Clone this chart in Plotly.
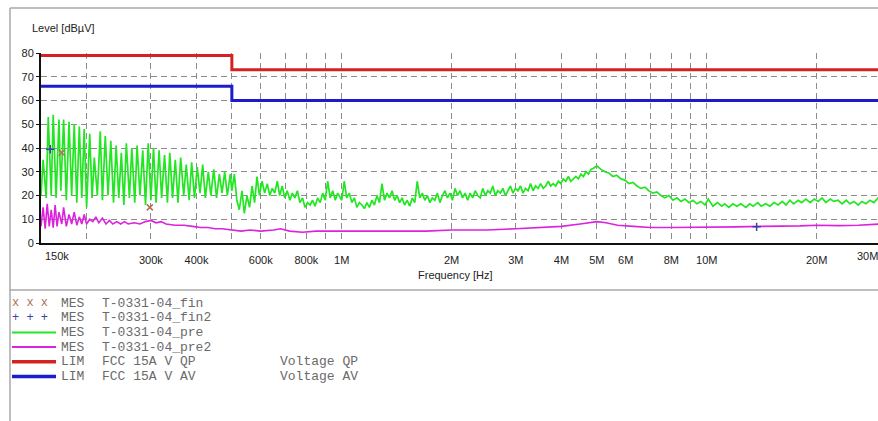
import plotly.graph_objects as go
import math

# ---------------- data (frequencies in MHz, levels in dBuV) ----------------
# green "pre" scan, split into frequency bands
pre_low_f = [0.150, 0.152, 0.155, 0.157, 0.160, 0.162, 0.165, 0.168, 0.170, 0.173,
             0.176, 0.179, 0.182, 0.185, 0.188, 0.191, 0.194, 0.197, 0.200, 0.204,
             0.207, 0.210, 0.214, 0.218, 0.221, 0.225, 0.229, 0.233, 0.237, 0.241,
             0.245, 0.249, 0.253, 0.257, 0.262, 0.266, 0.271, 0.275, 0.280, 0.285,
             0.290, 0.295, 0.300, 0.305, 0.310, 0.316, 0.321, 0.327, 0.333, 0.338,
             0.344, 0.350, 0.356, 0.362, 0.369, 0.375, 0.382, 0.388, 0.395, 0.402,
             0.409, 0.416, 0.423, 0.431, 0.438, 0.446, 0.454, 0.462, 0.470, 0.478,
             0.486, 0.495, 0.500]
pre_low_db = [20, 35, 19, 53, 20, 54, 19, 52, 22, 52,
              18, 51, 20, 50, 17, 49, 19, 48, 15, 46,
              19, 36, 20, 47, 18, 45, 20, 43, 17, 41,
              19, 38, 16, 42, 19, 40, 17, 41, 20, 39,
              16, 42, 18, 40, 17, 39, 19, 37, 17, 38,
              19, 35, 17, 36, 20, 33, 18, 34, 19, 32,
              21, 33, 19, 30, 20, 31, 19, 29, 21, 30,
              20, 29, 22]

pre_mid_f = [0.508, 0.516, 0.524, 0.533, 0.541, 0.550, 0.559, 0.568, 0.577, 0.586,
             0.595, 0.605, 0.615, 0.625, 0.635, 0.645, 0.655, 0.666, 0.676, 0.687,
             0.698, 0.709, 0.721, 0.732, 0.744, 0.756, 0.768, 0.781, 0.793, 0.806,
             0.819, 0.832, 0.845, 0.859, 0.873, 0.887, 0.901, 0.915, 0.930, 0.945,
             0.960, 0.975, 0.990]
pre_mid_db = [29, 18, 14, 22, 12.5, 20, 15, 24, 17, 28,
              20, 26, 21, 25, 20, 23, 21, 26, 20, 24,
              19, 22, 18, 21, 19, 22, 17, 19, 15, 17,
              16, 18, 15.5, 19, 17, 21, 18, 26, 19, 22,
              18, 21, 19]

pre_band_f = [1.000, 1.016, 1.032, 1.049, 1.066, 1.083, 1.100, 1.118, 1.136, 1.154,
              1.172, 1.191, 1.210, 1.229, 1.249, 1.269, 1.289, 1.310, 1.331, 1.352,
              1.374, 1.396, 1.418, 1.441, 1.464, 1.487, 1.511, 1.535, 1.560, 1.585,
              1.610, 1.636, 1.662, 1.689, 1.716, 1.743, 1.771, 1.800, 1.828, 1.858,
              1.887, 1.918, 1.948, 1.980, 2.011, 2.044, 2.076, 2.110, 2.143, 2.178,
              2.213, 2.248, 2.284, 2.321, 2.358, 2.396, 2.434, 2.473, 2.513, 2.553,
              2.594, 2.635, 2.677, 2.720, 2.764, 2.808, 2.853, 2.899, 2.945, 2.992,
              3.040, 3.089, 3.138, 3.189, 3.240, 3.291, 3.344, 3.398, 3.452, 3.507,
              3.564, 3.621, 3.679, 3.737, 3.797, 3.858, 3.920, 3.982, 4.046, 4.111,
              4.176, 4.243, 4.311, 4.380, 4.450, 4.521, 4.594, 4.667, 4.742, 4.818,
              4.895, 4.973]
pre_band_db = [18, 26, 19, 21, 17, 19, 15, 17, 16, 14.5,
               17, 15, 18, 16, 20, 17, 25, 18, 21, 19,
               22, 18, 20, 17, 19, 16, 18, 15.5, 19, 17,
               26, 19, 21, 18, 20, 17, 19, 18, 21, 17,
               20, 22, 19, 21, 18, 23, 20, 22, 19, 21,
               18, 21, 19, 22, 20, 19, 23, 20, 22, 21,
               24, 20, 22, 21, 23, 20, 22, 24, 21, 23,
               22, 24, 21, 23, 22, 25, 22, 24, 23, 25,
               23, 24, 26, 24, 25, 24, 26, 25, 27, 26,
               28, 26, 27, 28, 27, 29, 28, 30, 29, 31,
               31.5, 32.5]

pre_high_f = [5.00, 5.13, 5.26, 5.39, 5.53, 5.67, 5.82, 5.97, 6.12, 6.28,
              6.44, 6.60, 6.77, 6.94, 7.12, 7.30, 7.49, 7.68, 7.88, 8.08,
              8.29, 8.50, 8.72, 8.94, 9.17, 9.40, 9.64, 9.89, 10.1, 10.4,
              10.7, 11.0, 11.2, 11.5, 11.8, 12.1, 12.4, 12.8, 13.1, 13.4,
              13.8, 14.1, 14.5, 14.9, 15.3, 15.7, 16.1, 16.5, 16.9, 17.3,
              17.8, 18.2, 18.7, 19.2, 19.7, 20.2, 20.7, 21.2, 21.8, 22.3,
              22.9, 23.5, 24.1, 24.7, 25.3, 26.0, 26.6, 27.3, 28.0, 28.7,
              29.5, 30.0]
pre_high_db = [32.5, 31, 30, 29.5, 28, 28.5, 27, 26.5, 25, 25.5,
               24, 23, 23.5, 22, 21, 21.5, 20, 19, 20, 18,
               19, 17.5, 18.5, 17, 18, 16.5, 17.5, 16, 18.5, 15.5,
               17, 15.5, 16.5, 15, 16.5, 15.5, 16.5, 15, 16.5, 15.5,
               17, 15.5, 16.5, 15.5, 17, 16, 17.5, 16, 18, 16.5,
               18, 17, 18.5, 17, 18.5, 17.5, 19, 17, 18.5, 17.5,
               18, 16.5, 18, 16.5, 17.5, 16, 17.5, 16.5, 18, 17,
               19, 18]

# magenta "pre2" scan
mag_f = [0.150, 0.152, 0.154, 0.156, 0.158, 0.160, 0.162, 0.164, 0.166, 0.168,
         0.171, 0.173, 0.176, 0.179, 0.182, 0.185, 0.188, 0.191, 0.194, 0.197,
         0.200, 0.204, 0.208, 0.212, 0.216, 0.221, 0.226, 0.231, 0.236, 0.242,
         0.248, 0.254, 0.26, 0.27, 0.28, 0.29, 0.30, 0.31, 0.32, 0.33,
         0.35, 0.37, 0.39, 0.41, 0.43, 0.45, 0.47, 0.50, 0.53, 0.56,
         0.60, 0.65, 0.68, 0.72, 0.78, 0.85, 0.92, 1.0, 1.2, 1.4,
         1.7, 2.0, 2.5, 3.0, 3.5, 4.0, 4.5, 5.0, 5.3, 5.7,
         6.3, 7.0, 8.0, 9.0, 10, 12, 14, 16, 18, 20,
         23, 26, 30]
mag_db = [7, 15, 6, 16.5, 7, 14, 6.5, 16, 7, 13,
          8, 15, 7, 12, 8, 13, 7.5, 11, 8, 12,
          8, 10, 9, 11, 8.5, 10.5, 8, 9.5, 8, 9,
          8, 9, 8, 8.5, 8, 9, 9.5, 8.5, 9, 8,
          7.5, 7.5, 7, 6.5, 6.5, 6, 6, 5.5, 5, 5.5,
          5, 5.5, 6, 5, 4.5, 5, 5, 5, 5, 5.3,
          5, 5.5, 5.5, 6, 6.5, 7, 8, 9, 8.5, 7.5,
          7, 6.5, 6.5, 6.5, 6.8, 6.8, 7, 7, 7.2, 7.5,
          7.3, 7.5, 8]

# limit lines
qp_f = [0.15, 0.5, 0.5, 30]
qp_db = [79, 79, 73, 73]
av_f = [0.15, 0.5, 0.5, 30]
av_db = [66, 66, 60, 60]

# final measurement marks
fin_f = [0.150, 0.171, 0.298]
fin_db = [41, 38, 15]
fin2_f = [0.159, 13.7]
fin2_db = [39.5, 6.8]

tick_hz = [300e3, 400e3, 600e3, 800e3, 1e6, 2e6, 3e6, 4e6, 5e6, 6e6, 8e6, 10e6, 20e6]
tick_txt = ["300k", "400k", "600k", "800k", "1M", "2M", "3M", "4M", "5M", "6M", "8M", "10M", "20M"]
minor_hz = [200e3, 500e3, 700e3, 900e3, 7e6, 9e6]

legend_rows = [
    ("MES", "T-0331-04_fin", ""),
    ("MES", "T-0331-04_fin2", ""),
    ("MES", "T-0331-04_pre", ""),
    ("MES", "T-0331-04_pre2", ""),
    ("LIM", "FCC 15A V QP", "Voltage QP"),
    ("LIM", "FCC 15A V AV", "Voltage AV"),
]

for a, b in [(pre_low_f, pre_low_db), (pre_mid_f, pre_mid_db), (pre_band_f, pre_band_db),
             (pre_high_f, pre_high_db), (mag_f, mag_db)]:
    assert len(a) == len(b), (len(a), len(b))

green_f = pre_low_f + pre_mid_f + pre_band_f + pre_high_f
green_db = pre_low_db + pre_mid_db + pre_band_db + pre_high_db

# ---------------- styling ----------------
GREEN = "#22e622"
MAGENTA = "#dd22dd"
RED = "#d42222"
BLUE = "#1c1ccc"
FINC = "#b07050"
FIN2C = "#4040a0"

W, H = 878, 421
L, T, B = 41, 53, 178
PW = W - L
PH = H - T - B


def px(x):
    return (x - L) / PW


def py(y):
    return (H - B - y) / PH


def hz(lst):
    return [v * 1e6 for v in lst]


fig = go.Figure()
fig.add_trace(go.Scatter(x=hz(green_f), y=green_db, mode="lines",
                         line=dict(color=GREEN, width=1.7), showlegend=False))
fig.add_trace(go.Scatter(x=hz(mag_f), y=mag_db, mode="lines",
                         line=dict(color=MAGENTA, width=1.6), showlegend=False))
fig.add_trace(go.Scatter(x=hz(qp_f), y=qp_db, mode="lines",
                         line=dict(color=RED, width=3), showlegend=False))
fig.add_trace(go.Scatter(x=hz(av_f), y=av_db, mode="lines",
                         line=dict(color=BLUE, width=3), showlegend=False))
fig.add_trace(go.Scatter(x=hz(fin_f), y=fin_db, mode="markers",
                         marker=dict(symbol="x-thin", size=6, line=dict(color=FINC, width=1.5)),
                         showlegend=False, cliponaxis=False))
fig.add_trace(go.Scatter(x=hz(fin2_f), y=fin2_db, mode="markers",
                         marker=dict(symbol="cross-thin", size=6, line=dict(color=FIN2C, width=1.5)),
                         showlegend=False, cliponaxis=False))

grid = dict(showgrid=True, gridcolor="#8c8c8c", gridwidth=1, griddash="6px,4px")
tfont = dict(family="Liberation Sans, Arial", size=11, color="#222")

fig.update_xaxes(type="log", range=[math.log10(150e3), math.log10(150e3) + PW / 365.0],
                 tickmode="array", tickvals=tick_hz, ticktext=tick_txt, ticks="",
                 ticklabelstandoff=6, tickfont=tfont,
                 showline=True, linecolor="#111", linewidth=2, zeroline=False,
                 minor=dict(tickmode="array", tickvals=minor_hz, ticks="", **grid),
                 **grid)
fig.update_yaxes(range=[0, 80], tickmode="linear", tick0=0, dtick=10,
                 ticks="outside", ticklen=3, tickcolor="#111", tickfont=tfont,
                 showline=True, linecolor="#111", linewidth=2, zeroline=False,
                 **grid)

ann = []
ann.append(dict(xref="paper", yref="paper", x=px(43), y=py(256), text="150k",
                xanchor="left", yanchor="middle", showarrow=False, font=tfont))
ann.append(dict(xref="paper", yref="paper", x=px(880), y=py(256), text="30M",
                xanchor="right", yanchor="middle", showarrow=False, font=tfont))
ann.append(dict(xref="paper", yref="paper", x=px(30), y=py(28), text="Level [dBµV]",
                xanchor="left", yanchor="middle", showarrow=False, font=tfont))
ann.append(dict(xref="paper", yref="paper", x=px(455), y=py(275), text="Frequency [Hz]",
                xanchor="center", yanchor="middle", showarrow=False, font=tfont))

shapes = []
FR = "#a8a8a8"
shapes.append(dict(type="line", xref="paper", yref="paper", x0=px(10), x1=px(W + 5),
                   y0=py(8), y1=py(8), line=dict(color=FR, width=1.5)))
shapes.append(dict(type="line", xref="paper", yref="paper", x0=px(10), x1=px(10),
                   y0=py(8), y1=py(H + 5), line=dict(color=FR, width=1.5)))
shapes.append(dict(type="line", xref="paper", yref="paper", x0=px(10), x1=px(W + 5),
                   y0=py(290), y1=py(290), line=dict(color=FR, width=1.5)))

mono = dict(family="Liberation Mono, Courier New, monospace", size=13, color="#6a6a6a")
sample_colors = [None, None, GREEN, MAGENTA, RED, BLUE]
sample_widths = [0, 0, 2, 2, 3.5, 3.5]
for i, (kind, name, extra) in enumerate(legend_rows):
    ry = 303 + 14.7 * i
    c = sample_colors[i]
    if c is not None:
        shapes.append(dict(type="line", xref="paper", yref="paper", x0=px(12), x1=px(56),
                           y0=py(ry), y1=py(ry), line=dict(color=c, width=sample_widths[i])))
    elif i == 0:
        ann.append(dict(xref="paper", yref="paper", x=px(10), y=py(ry), text="x x x",
                        xanchor="left", yanchor="middle", showarrow=False,
                        font=dict(family=mono["family"], size=12, color=FINC)))
    else:
        ann.append(dict(xref="paper", yref="paper", x=px(10), y=py(ry), text="+ + +",
                        xanchor="left", yanchor="middle", showarrow=False,
                        font=dict(family=mono["family"], size=12, color=FIN2C)))
    ann.append(dict(xref="paper", yref="paper", x=px(59), y=py(ry), text=kind,
                    xanchor="left", yanchor="middle", showarrow=False, font=mono))
    ann.append(dict(xref="paper", yref="paper", x=px(100), y=py(ry), text=name,
                    xanchor="left", yanchor="middle", showarrow=False, font=mono))
    if extra:
        ann.append(dict(xref="paper", yref="paper", x=px(278), y=py(ry), text=extra,
                        xanchor="left", yanchor="middle", showarrow=False, font=mono))

fig.update_layout(width=W, height=H, autosize=False,
                  margin=dict(l=L, r=0, t=T, b=B, pad=0),
                  paper_bgcolor="white", plot_bgcolor="white",
                  showlegend=False, annotations=ann, shapes=shapes)

fig.write_html("out.html")
